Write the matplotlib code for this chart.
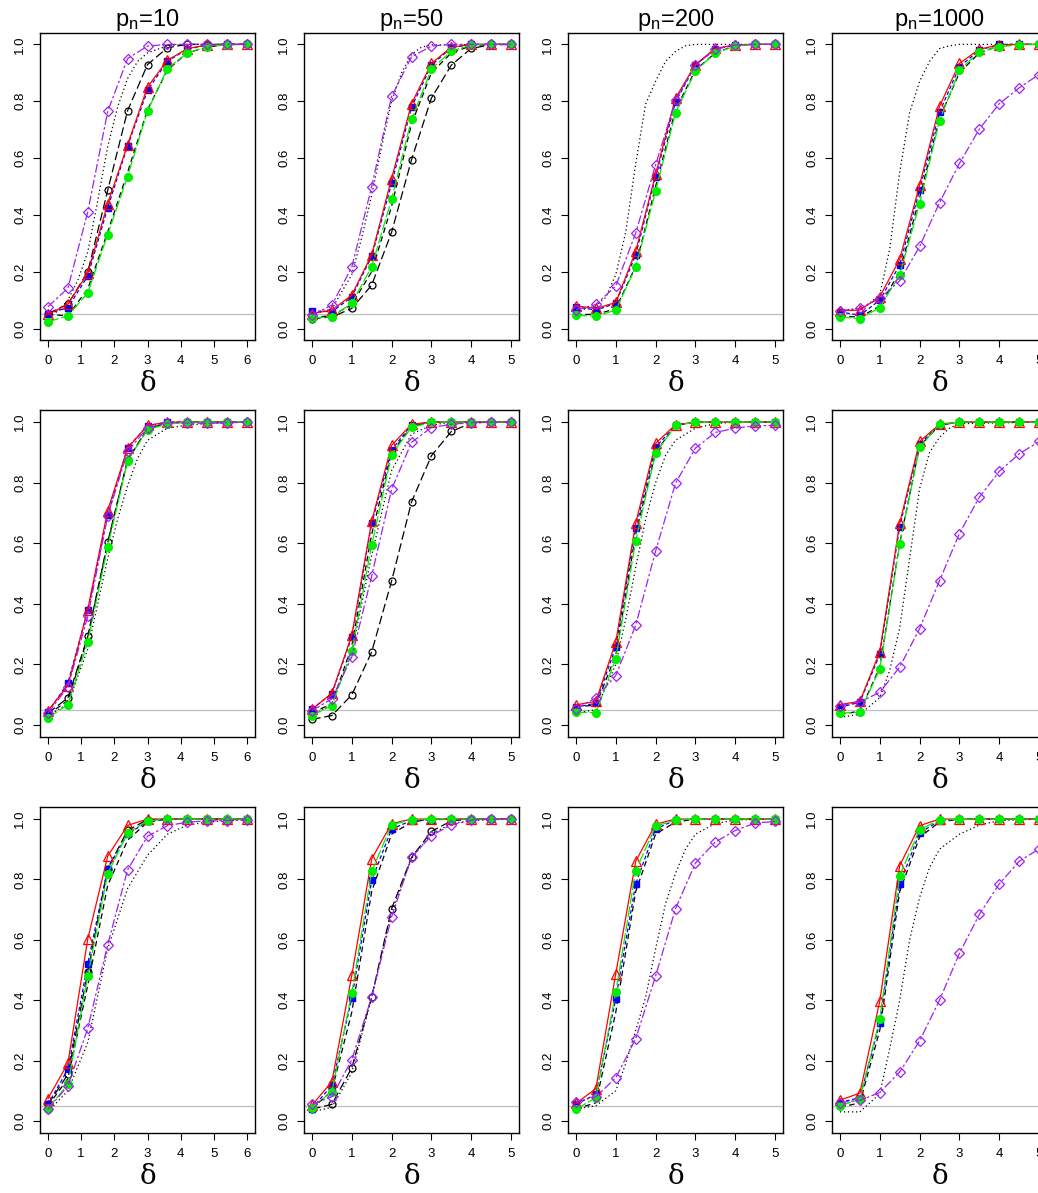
import matplotlib
matplotlib.use("Agg")
import matplotlib.pyplot as plt

plt.rcParams['font.family'] = ['Liberation Sans', 'DejaVu Sans']
plt.rcParams['mathtext.default'] = 'regular'

# ---------------- data ----------------
titles = ["10", "50", "200", "1000"]
x_col1 = [0, 0.6, 1.2, 1.8, 2.4, 3.0, 3.6, 4.2, 4.8, 5.4, 6.0]
x_other = [0, 0.5, 1.0, 1.5, 2.0, 2.5, 3.0, 3.5, 4.0, 4.5, 5.0]
xticks_col1 = [0, 1, 2, 3, 4, 5, 6]
xticks_other = [0, 1, 2, 3, 4, 5]
yticks = [0.0, 0.2, 0.4, 0.6, 0.8, 1.0]
ref_level = 0.05

# red open triangles (rows x columns)
red = [
    [[0.05, 0.086, 0.195, 0.44, 0.647, 0.85, 0.944, 0.985, 0.998, 1, 1],
     [0.053, 0.065, 0.118, 0.26, 0.528, 0.791, 0.933, 0.99, 1, 1, 1],
     [0.08, 0.071, 0.092, 0.272, 0.543, 0.811, 0.929, 0.986, 0.998, 1, 1],
     [0.063, 0.065, 0.112, 0.244, 0.505, 0.782, 0.933, 0.983, 0.998, 1, 1]],
    [[0.047, 0.13, 0.381, 0.708, 0.914, 0.989, 1, 1, 1, 1, 1],
     [0.051, 0.105, 0.296, 0.673, 0.923, 0.993, 1, 1, 1, 1, 1],
     [0.066, 0.078, 0.274, 0.666, 0.93, 0.991, 1, 1, 1, 1, 1],
     [0.067, 0.078, 0.241, 0.666, 0.936, 0.993, 1, 1, 1, 1, 1]],
    [[0.074, 0.191, 0.603, 0.877, 0.979, 1, 1, 1, 1, 1, 1],
     [0.052, 0.13, 0.482, 0.868, 0.985, 1, 1, 1, 1, 1, 1],
     [0.058, 0.107, 0.488, 0.86, 0.983, 1, 1, 1, 1, 1, 1],
     [0.069, 0.092, 0.397, 0.846, 0.978, 1, 1, 1, 1, 1, 1]],
]
# blue filled squares
blue = [
    [[0.053, 0.074, 0.185, 0.425, 0.643, 0.838, 0.941, 0.983, 0.998, 1, 1],
     [0.063, 0.059, 0.112, 0.254, 0.511, 0.779, 0.927, 0.988, 1, 1, 1],
     [0.077, 0.065, 0.089, 0.26, 0.534, 0.797, 0.927, 0.983, 0.998, 1, 1],
     [0.059, 0.047, 0.1, 0.224, 0.488, 0.762, 0.921, 0.98, 1, 1, 1]],
    [[0.042, 0.138, 0.379, 0.693, 0.916, 0.988, 1, 1, 1, 1, 1],
     [0.053, 0.103, 0.29, 0.666, 0.908, 0.991, 1, 1, 1, 1, 1],
     [0.058, 0.072, 0.257, 0.649, 0.917, 0.989, 1, 1, 1, 1, 1],
     [0.058, 0.075, 0.233, 0.655, 0.928, 0.991, 1, 1, 1, 1, 1]],
    [[0.055, 0.171, 0.521, 0.836, 0.95, 0.992, 1, 1, 1, 1, 1],
     [0.041, 0.118, 0.406, 0.797, 0.967, 0.995, 0.997, 1, 1, 1, 1],
     [0.055, 0.088, 0.405, 0.785, 0.967, 0.997, 1, 1, 1, 1, 1],
     [0.061, 0.077, 0.325, 0.785, 0.954, 0.995, 1, 1, 1, 1, 1]],
]
# green filled circles
green = [
    [[0.024, 0.045, 0.126, 0.331, 0.535, 0.765, 0.915, 0.97, 0.992, 0.998, 1],
     [0.038, 0.041, 0.089, 0.218, 0.455, 0.736, 0.913, 0.976, 0.998, 1, 1],
     [0.047, 0.044, 0.065, 0.216, 0.484, 0.759, 0.906, 0.97, 0.994, 1, 1],
     [0.041, 0.035, 0.074, 0.189, 0.44, 0.732, 0.909, 0.974, 0.992, 0.998, 1]],
    [[0.023, 0.067, 0.274, 0.588, 0.872, 0.975, 0.994, 1, 1, 1, 1],
     [0.031, 0.064, 0.244, 0.594, 0.892, 0.983, 0.999, 1, 1, 1, 1],
     [0.042, 0.04, 0.219, 0.608, 0.897, 0.989, 1, 1, 1, 1, 1],
     [0.039, 0.042, 0.185, 0.596, 0.917, 0.993, 1, 1, 1, 1, 1]],
    [[0.041, 0.121, 0.48, 0.819, 0.954, 0.994, 1, 1, 1, 1, 1],
     [0.044, 0.097, 0.424, 0.827, 0.981, 0.998, 1, 1, 1, 1, 1],
     [0.039, 0.077, 0.427, 0.829, 0.976, 0.997, 1, 1, 1, 1, 1],
     [0.05, 0.072, 0.338, 0.813, 0.965, 0.997, 1, 1, 1, 1, 1]],
]
# purple open diamonds
purple = [
    [[0.077, 0.142, 0.411, 0.764, 0.95, 0.994, 1, 1, 1, 1, 1],
     [0.047, 0.083, 0.216, 0.5, 0.817, 0.956, 0.994, 1, 1, 1, 1],
     [0.067, 0.085, 0.15, 0.336, 0.576, 0.803, 0.927, 0.983, 0.998, 1, 1],
     [0.063, 0.071, 0.106, 0.168, 0.289, 0.443, 0.581, 0.702, 0.791, 0.847, 0.894]],
    [[0.039, 0.125, 0.359, 0.69, 0.903, 0.982, 0.997, 0.997, 0.996, 0.998, 1],
     [0.047, 0.086, 0.224, 0.492, 0.778, 0.933, 0.982, 0.993, 0.998, 1, 1],
     [0.053, 0.089, 0.163, 0.329, 0.574, 0.798, 0.914, 0.966, 0.98, 0.988, 0.989],
     [0.064, 0.075, 0.108, 0.191, 0.318, 0.476, 0.632, 0.752, 0.837, 0.895, 0.936]],
    [[0.039, 0.116, 0.307, 0.584, 0.832, 0.943, 0.978, 0.99, 0.994, 0.995, 0.997],
     [0.055, 0.08, 0.202, 0.411, 0.676, 0.873, 0.945, 0.981, 0.996, 1, 1],
     [0.063, 0.08, 0.143, 0.272, 0.48, 0.703, 0.854, 0.924, 0.962, 0.987, 0.992],
     [0.061, 0.068, 0.094, 0.162, 0.265, 0.4, 0.555, 0.684, 0.785, 0.86, 0.901]],
]
# black open circles (not shown for p_n=200, 1000)
circ = [
    [[0.053, 0.086, 0.2, 0.486, 0.767, 0.929, 0.988, 1, 1, 1, 1],
     [0.035, 0.041, 0.071, 0.153, 0.339, 0.594, 0.811, 0.927, 0.986, 0.998, 1],
     None, None],
    [[0.039, 0.089, 0.292, 0.603, 0.875, 0.978, 0.997, 1, 1, 1, 1],
     [0.018, 0.031, 0.099, 0.241, 0.475, 0.736, 0.889, 0.969, 0.997, 1, 1],
     None, None],
    [[0.055, 0.154, 0.493, 0.836, 0.963, 0.998, 1, 1, 1, 1, 1],
     [0.039, 0.055, 0.176, 0.411, 0.703, 0.873, 0.959, 0.994, 1, 1, 1],
     None, None],
]
# black dashed line, no symbols
bdash = [
    [[0.05, 0.045, 0.14, 0.34, 0.55, 0.77, 0.91, 0.97, 0.99, 1, 1],
     [0.04, 0.045, 0.085, 0.2, 0.43, 0.72, 0.9, 0.97, 0.995, 1, 1],
     [0.05, 0.05, 0.07, 0.22, 0.5, 0.77, 0.91, 0.97, 0.995, 1, 1],
     [0.045, 0.04, 0.08, 0.2, 0.46, 0.74, 0.9, 0.97, 0.995, 1, 1]],
    [[0.035, 0.08, 0.29, 0.6, 0.875, 0.978, 0.997, 1, 1, 1, 1],
     [0.04, 0.07, 0.26, 0.63, 0.9, 0.985, 1, 1, 1, 1, 1],
     [0.06, 0.065, 0.23, 0.63, 0.9, 0.99, 1, 1, 1, 1, 1],
     [0.035, 0.045, 0.19, 0.6, 0.92, 0.99, 1, 1, 1, 1, 1]],
    [[0.05, 0.14, 0.45, 0.78, 0.93, 0.99, 1, 1, 1, 1, 1],
     [0.04, 0.1, 0.36, 0.76, 0.95, 0.99, 1, 1, 1, 1, 1],
     [0.04, 0.06, 0.36, 0.76, 0.95, 0.99, 1, 1, 1, 1, 1],
     [0.045, 0.06, 0.3, 0.76, 0.94, 0.99, 1, 1, 1, 1, 1]],
]
# black dotted curve (read at finer delta steps)
dot_x = [
    [[0, 0.3, 0.6, 0.9, 1.2, 1.5, 1.8, 2.1, 2.4, 2.7, 3.0, 3.6, 4.2, 6.0],
     [0, 0.5, 1.0, 1.25, 1.5, 1.75, 2.0, 2.25, 2.5, 2.75, 3.0, 5.0],
     [0, 0.5, 0.75, 1.0, 1.25, 1.5, 1.75, 2.0, 2.25, 2.5, 2.75, 3.0, 5.0],
     [0, 0.5, 0.75, 1.0, 1.25, 1.5, 1.75, 2.0, 2.25, 2.5, 2.75, 3.0, 5.0]],
    [[0, 0.6, 1.2, 1.8, 2.1, 2.4, 2.7, 3.0, 3.6, 4.2, 4.8, 6.0],
     [0, 0.5, 1.0, 1.5, 2.0, 2.5, 3.0, 3.5, 5.0],
     [0, 0.5, 1.0, 1.25, 1.5, 1.75, 2.0, 2.25, 2.5, 3.0, 3.5, 4.0, 5.0],
     [0, 0.5, 1.0, 1.25, 1.5, 1.75, 2.0, 2.25, 2.5, 2.75, 3.0, 5.0]],
    [[0, 0.6, 1.2, 1.8, 2.4, 3.0, 3.6, 4.2, 4.8, 5.4, 6.0],
     [0, 0.5, 1.0, 1.5, 2.0, 2.5, 3.0, 3.5, 4.0, 5.0],
     [0, 0.5, 1.0, 1.25, 1.5, 1.75, 2.0, 2.25, 2.5, 2.75, 3.0, 3.5, 4.0, 5.0],
     [0, 0.5, 1.0, 1.25, 1.5, 1.75, 2.0, 2.25, 2.5, 3.0, 3.5, 4.0, 5.0]],
]
dot_y = [
    [[0.05, 0.06, 0.1, 0.17, 0.27, 0.45, 0.64, 0.78, 0.88, 0.94, 0.97, 0.995, 1.0, 1.0],
     [0.05, 0.07, 0.19, 0.32, 0.47, 0.64, 0.8, 0.9, 0.965, 0.99, 0.998, 1.0],
     [0.06, 0.08, 0.11, 0.19, 0.34, 0.58, 0.79, 0.87, 0.94, 0.975, 0.995, 1.0, 1.0],
     [0.065, 0.07, 0.09, 0.12, 0.28, 0.55, 0.76, 0.87, 0.94, 0.985, 0.995, 1.0, 1.0]],
    [[0.03, 0.07, 0.25, 0.55, 0.68, 0.79, 0.88, 0.94, 0.98, 0.99, 0.995, 1.0],
     [0.03, 0.07, 0.24, 0.56, 0.84, 0.96, 0.99, 1.0, 1.0],
     [0.04, 0.05, 0.2, 0.35, 0.52, 0.68, 0.8, 0.89, 0.94, 0.98, 0.995, 1.0, 1.0],
     [0.025, 0.035, 0.09, 0.18, 0.32, 0.55, 0.78, 0.9, 0.95, 0.98, 0.995, 1.0]],
    [[0.03, 0.1, 0.26, 0.57, 0.77, 0.88, 0.95, 0.98, 0.99, 0.995, 0.998],
     [0.03, 0.045, 0.16, 0.41, 0.69, 0.87, 0.95, 0.985, 0.995, 1.0],
     [0.04, 0.05, 0.1, 0.19, 0.3, 0.41, 0.57, 0.72, 0.82, 0.9, 0.95, 0.985, 0.997, 1.0],
     [0.03, 0.03, 0.09, 0.24, 0.4, 0.6, 0.74, 0.84, 0.9, 0.95, 0.98, 0.995, 1.0]],
]

# ---------------- layout ----------------
W, H = 1038, 1193
fig = plt.figure(figsize=(W / 100, H / 100), dpi=100)
col_left = [40, 304, 568, 832]
ax_w = 215
row_tb = [(33, 340), (410, 737), (807, 1133)]

lw = 0.9
for r in range(3):
    for c in range(4):
        top, bot = row_tb[r]
        ax = fig.add_axes([col_left[c] / W, 1 - bot / H, ax_w / W, (bot - top) / H])
        xs = x_col1 if c == 0 else x_other
        xt = xticks_col1 if c == 0 else xticks_other
        xmax = xs[-1]
        ax.set_xlim(-0.04 * xmax, 1.04 * xmax)
        ax.set_ylim(-0.04, 1.04)

        ax.axhline(ref_level, color='#BEBEBE', lw=0.9, zorder=1)
        ax.plot(dot_x[r][c], dot_y[r][c], color='black', lw=lw,
                linestyle=(0, (1, 2.2)), zorder=2)
        if circ[r][c] is not None:
            ax.plot(xs, circ[r][c], color='black', lw=lw, linestyle=(0, (7, 3)),
                    marker='o', ms=5, mfc='none', mec='black', mew=0.9, zorder=3)
        ax.plot(xs, bdash[r][c], color='black', lw=lw, linestyle=(0, (4.5, 3)), zorder=3)
        ax.plot(xs, blue[r][c], color='#0000FF', lw=lw, linestyle=(0, (3, 2)),
                marker='s', ms=5, mfc='#0000FF', mec='#0000FF', zorder=4)
        ax.plot(xs, red[r][c], color='#FF0000', lw=lw, linestyle='-',
                marker='^', ms=7, mfc='none', mec='#FF0000', mew=0.9, zorder=5)
        ax.plot(xs, green[r][c], color='#00EE00', lw=lw, linestyle=(0, (9, 2)),
                marker='o', ms=5.5, mfc='#00EE00', mec='#00EE00', zorder=6)
        ax.plot(xs, purple[r][c], color='#A020F0', lw=lw, linestyle=(0, (7, 2, 2, 2)),
                marker='D', ms=5.3, mfc='none', mec='#A020F0', mew=0.9, zorder=7)

        ax.set_xticks(xt)
        ax.set_xticklabels([str(v) for v in xt], fontsize=9.5)
        ax.set_yticks(yticks)
        ax.set_yticklabels(["%.1f" % v for v in yticks], fontsize=9.5,
                           rotation=90, va='center')
        ax.tick_params(direction='out', length=5, width=0.8, pad=6, colors='black')
        ax.tick_params(axis='y', pad=5)
        for s in ax.spines.values():
            s.set_linewidth(1.0)
        ax.set_xlabel('δ', fontsize=20, family=['DejaVu Serif'], labelpad=2)
        if r == 0:
            ax.set_title('$p_n$=' + titles[c], fontsize=17, pad=4)

fig.savefig('out.png', dpi=100)
